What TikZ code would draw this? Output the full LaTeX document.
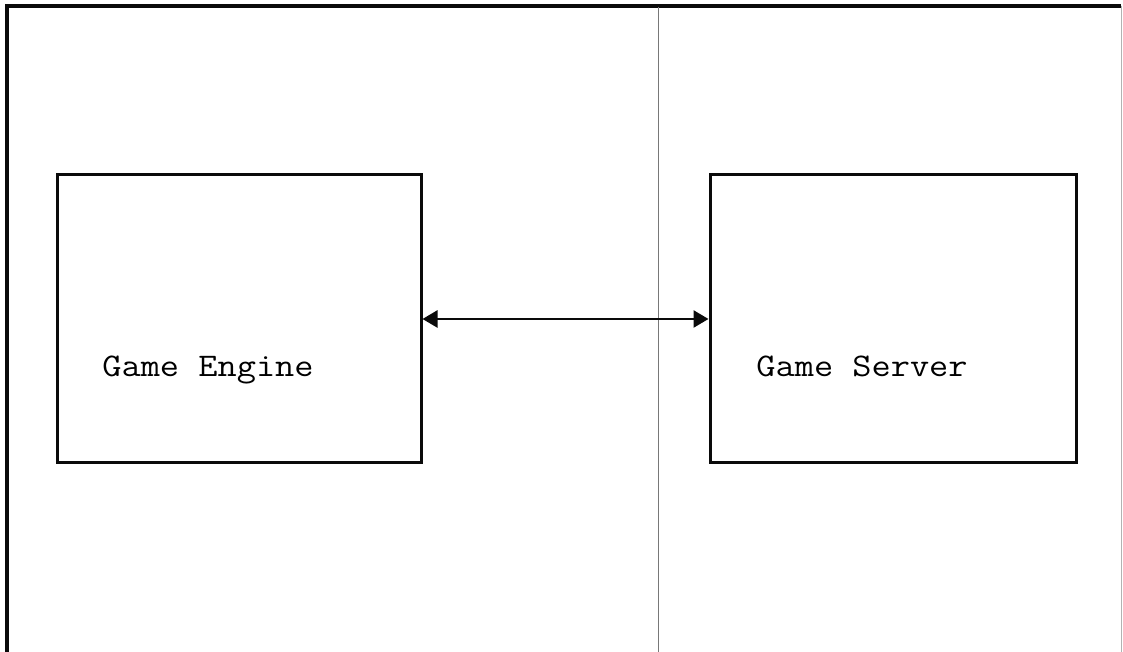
\documentclass[tikz,border=0pt]{standalone}
\usepackage{fontspec}
\usepackage{xcolor}
\usetikzlibrary{arrows.meta,positioning,calc}
\definecolor{cFrame}{RGB}{10,10,10}
\definecolor{cSplit}{RGB}{120,120,120}
\tikzset{
  >={Triangle[length=15pt,width=17pt]},
  block/.style={draw=cFrame,line width=3pt,minimum width=364pt,minimum height=288pt,
                inner sep=0pt},
  blocklbl/.style={font=\ttfamily\fontsize{33}{39}\selectfont,inner sep=0pt,anchor=base,
                   transform shape,xscale=1.13},
  link/.style={<->,line width=2.5pt,cFrame},
  split/.style={cSplit,line width=1pt},
}
\begin{document}
\begin{tikzpicture}[x=1pt,y=1pt]
  \useasboundingbox (0,0) rectangle (1123,652);
  \fill[white] (0,0) rectangle (1123,652);
  % outer frame, bottom edge runs off the page
  \draw[line width=3.5pt,cFrame] (7,-10)--(7,646)--(1121,646);
  \draw[line width=1pt,gray!60] (1121,646)--(1121,-10);
  % dividing line
  \coordinate (sTop) at (658,645);
  \coordinate (sBot) at (658,0);
  \draw[split] (sTop)--(sBot);
  % the two blocks
  \node[block] (engine) at (239,333){};
  \node[block,minimum width=366pt] (server) at (893,333){};
  \node[blocklbl] (engineLbl) at ([xshift=-31pt,yshift=-58pt]engine.center){Game Engine};
  \node[blocklbl] (serverLbl) at ([xshift=-31pt,yshift=-58pt]server.center){Game Server};
  \draw[link] (engine.east)--(server.west);
\end{tikzpicture}
\end{document}
